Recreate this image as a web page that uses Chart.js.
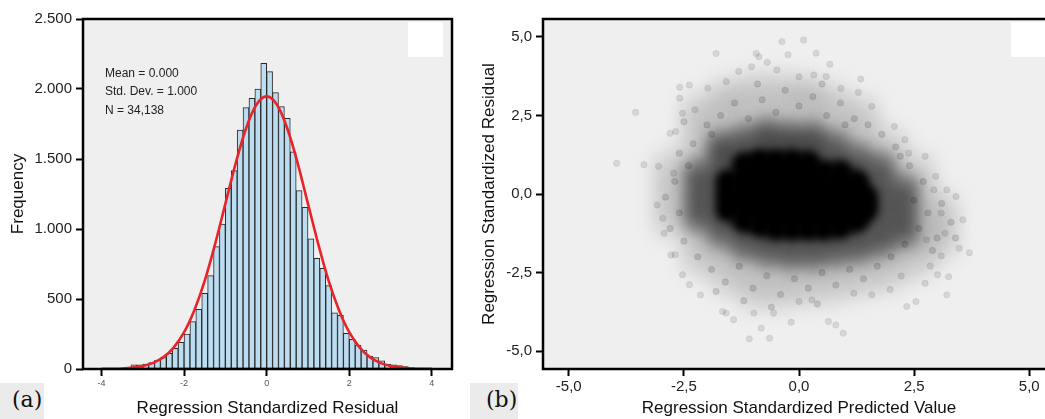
<!DOCTYPE html>
<html lang="en">
<head>
<meta charset="UTF-8">
<title>Regression residual diagnostics</title>
<script src="https://cdn.jsdelivr.net/npm/chart.js"></script>
<style>
    html, body {
        margin: 0;
        padding: 0;
        width: 1045px;
        height: 419px;
        overflow: hidden;
        background: #fff;
    }
    canvas {
        position: absolute;
        top: 0;
    }
    .tag {
        position: absolute;
        top: 383px;
        height: 36px;
        background: #ebebeb;
        font-family: 'DejaVu Serif', 'Liberation Serif', serif;
        font-size: 22px;
        line-height: 34px;
        color: #111;
    }
    .stats {
        position: absolute;
        left: 105px;
        top: 64px;
        font-family: 'Liberation Sans', Arial, sans-serif;
        font-size: 12px;
        line-height: 18.3px;
        color: #222;
    }
</style>
</head>
<body>
    <canvas id="hist" width="470" height="419" style="left:0"></canvas>
    <canvas id="scatter" width="600" height="419" style="left:470px"></canvas>

    <div class="stats">Mean = 0.000<br>Std. Dev. = 1.000<br>N = 34,138</div>
    <div class="tag" style="left:0; width:44px; text-indent:12px;">(a)</div>
    <div class="tag" style="left:470px; width:48px; text-indent:16px;">(b)</div>

<script>
    // histogram (a): bins of width 0.143, first left edge at -4.004
    const firstBinEdge = -4.004;
    const binWidth = 0.143;
    const residCounts = [2, 1, 3, 5, 8, 29, 29, 36, 45, 64, 81, 112, 148, 190, 250, 338, 426, 540, 667, 874,
                         1036, 1290, 1417, 1707, 1867, 1933, 2000, 2183,
                         2124, 1974, 1874, 1790, 1552, 1274, 1155, 929, 790, 719, 595, 402, 383, 255, 212,
                         171, 136, 93, 81, 59, 36, 29, 24, 17, 12, 7, 5];

    // fitted normal curve
    const curveX = [-4, -3.75, -3.5, -3.25, -3, -2.75, -2.5, -2.25, -2, -1.75, -1.5, -1.25, -1, -0.75, -0.5, -0.25,
                    0, 0.25, 0.5, 0.75, 1, 1.25, 1.5, 1.75, 2, 2.25, 2.5, 2.75, 3, 3.25, 3.5, 3.75, 4];
    const curveY = [1, 2, 4, 10, 22, 44, 85, 155, 263, 422, 631, 892, 1181, 1471, 1718, 1887,
                    1947, 1887, 1718, 1471, 1181, 892, 631, 422, 263, 155, 85, 44, 22, 10, 4, 2, 1];

    const residTicks = [-4, -2, 0, 2, 4];
    const residTickLabels = ['-4', '-2', '0', '2', '4'];
    const freqTicks = [0, 500, 1000, 1500, 2000, 2500];
    const freqTickLabels = ['0', '500', '1.000', '1.500', '2.000', '2.500'];

    // scatter (b): standardized predicted value vs standardized residual
    const axisTicks = [-5, -2.5, 0, 2.5, 5];
    const axisTickLabels = ['-5,0', '-2,5', '0,0', '2,5', '5,0'];

    // solid black core of the cloud
    const coreCloud = [
        [-1.55, -0.5], [-1.55, -0.05], [-1.55, 0.4],
        [-1.2, -0.85], [-1.2, -0.4], [-1.2, 0.05], [-1.2, 0.5], [-1.2, 0.95],
        [-0.85, -1.0], [-0.85, -0.55], [-0.85, -0.1], [-0.85, 0.35], [-0.85, 0.8], [-0.85, 1.05],
        [-0.5, -1.1], [-0.5, -0.65], [-0.5, -0.2], [-0.5, 0.25], [-0.5, 0.7], [-0.5, 1.05],
        [-0.15, -1.1], [-0.15, -0.65], [-0.15, -0.2], [-0.15, 0.25], [-0.15, 0.7], [-0.15, 1.05],
        [0.2, -1.1], [0.2, -0.65], [0.2, -0.2], [0.2, 0.25], [0.2, 0.7], [0.2, 1.0],
        [0.55, -1.1], [0.55, -0.65], [0.55, -0.2], [0.55, 0.25], [0.55, 0.7],
        [0.9, -1.05], [0.9, -0.6], [0.9, -0.15], [0.9, 0.3], [0.9, 0.7],
        [1.25, -0.85], [1.25, -0.4], [1.25, 0.05], [1.25, 0.4],
        [1.45, -0.5], [1.45, -0.1]
    ];

    // dark grey ring around the core
    const denseCloud = [
        [-2.2, -0.8], [-2.2, -0.3], [-2.2, 0.2], [-2.2, 0.7],
        [-1.7, -1.3], [-1.7, -0.8], [-1.7, -0.3], [-1.7, 0.2], [-1.7, 0.7], [-1.7, 1.2], [-1.7, 1.6],
        [-1.2, -1.7], [-1.2, -1.2], [-1.2, -0.7], [-1.2, -0.2], [-1.2, 0.3], [-1.2, 0.8], [-1.2, 1.3], [-1.2, 1.8],
        [-0.7, -1.9], [-0.7, -1.4], [-0.7, -0.9], [-0.7, -0.4], [-0.7, 0.1], [-0.7, 0.6], [-0.7, 1.1], [-0.7, 1.6], [-0.7, 2.0],
        [-0.2, -2.0], [-0.2, -1.5], [-0.2, -1.0], [-0.2, -0.5], [-0.2, 0], [-0.2, 0.5], [-0.2, 1.0], [-0.2, 1.5], [-0.2, 1.9],
        [0.3, -2.0], [0.3, -1.5], [0.3, -1.0], [0.3, -0.5], [0.3, 0], [0.3, 0.5], [0.3, 1.0], [0.3, 1.5], [0.3, 1.9],
        [0.8, -1.9], [0.8, -1.4], [0.8, -0.9], [0.8, -0.4], [0.8, 0.1], [0.8, 0.6], [0.8, 1.1], [0.8, 1.6],
        [1.3, -1.8], [1.3, -1.3], [1.3, -0.8], [1.3, -0.3], [1.3, 0.2], [1.3, 0.7], [1.3, 1.2],
        [1.8, -1.6], [1.8, -1.1], [1.8, -0.6], [1.8, -0.1], [1.8, 0.4], [1.8, 0.9],
        [2.3, -1.3], [2.3, -0.8], [2.3, -0.3], [2.3, 0.2]
    ];

    // light grey haze of overlapping points
    const hazeCloud = [
        [-2.8, -0.9], [-2.8, -0.3], [-2.8, 0.3], [-2.8, 0.9],
        [-2.2, -2.1], [-2.2, -1.5], [-2.2, -0.9], [-2.2, -0.3], [-2.2, 0.3], [-2.2, 0.9], [-2.2, 1.5], [-2.2, 2.1], [-2.2, 2.7],
        [-1.6, -2.7], [-1.6, -2.1], [-1.6, -1.5], [-1.6, -0.9], [-1.6, -0.3], [-1.6, 0.3], [-1.6, 0.9], [-1.6, 1.5], [-1.6, 2.1], [-1.6, 2.7], [-1.6, 3.2],
        [-1.0, -3.2], [-1.0, -2.6], [-1.0, -2.0], [-1.0, -1.4], [-1.0, -0.8], [-1.0, -0.2], [-1.0, 0.4], [-1.0, 1.0], [-1.0, 1.6], [-1.0, 2.2], [-1.0, 2.8], [-1.0, 3.4],
        [-0.4, -3.2], [-0.4, -2.6], [-0.4, -2.0], [-0.4, -1.4], [-0.4, -0.8], [-0.4, -0.2], [-0.4, 0.4], [-0.4, 1.0], [-0.4, 1.6], [-0.4, 2.2], [-0.4, 2.8], [-0.4, 3.4],
        [0.2, -3.1], [0.2, -2.5], [0.2, -1.9], [0.2, -1.3], [0.2, -0.7], [0.2, -0.1], [0.2, 0.5], [0.2, 1.1], [0.2, 1.7], [0.2, 2.3], [0.2, 2.9], [0.2, 3.3],
        [0.8, -3.0], [0.8, -2.4], [0.8, -1.8], [0.8, -1.2], [0.8, -0.6], [0.8, 0], [0.8, 0.6], [0.8, 1.2], [0.8, 1.8], [0.8, 2.4], [0.8, 3.0],
        [1.4, -2.8], [1.4, -2.2], [1.4, -1.6], [1.4, -1.0], [1.4, -0.4], [1.4, 0.2], [1.4, 0.8], [1.4, 1.4], [1.4, 2.0], [1.4, 2.6],
        [2.0, -2.6], [2.0, -2.0], [2.0, -1.4], [2.0, -0.8], [2.0, -0.2], [2.0, 0.4], [2.0, 1.0], [2.0, 1.6],
        [2.6, -2.2], [2.6, -1.6], [2.6, -1.0], [2.6, -0.4], [2.6, 0.2], [2.6, 0.8],
        [3.1, -1.6], [3.1, -1.0], [3.1, -0.4]
    ];

    // single points visible in the grey zone
    const midDots = [
        [-2.3, 1.6], [-2.0, 2.2], [-1.7, 2.5], [-1.4, 2.9], [-1.1, 2.4], [-0.8, 3.0], [-0.5, 2.6], [-0.3, 3.3],
        [0.0, 2.8], [0.3, 3.1], [0.6, 2.5], [0.9, 2.9], [1.2, 2.4], [1.5, 2.2], [1.8, 1.9], [2.1, 1.5],
        [-2.5, 2.3], [-0.9, 3.5], [0.5, 3.5], [1.0, 2.2], [-1.9, 1.9], [-2.6, 1.3],
        [-2.7, 0.4], [-2.9, -0.1], [-2.6, -0.6], [-2.8, -1.1], [-2.5, -1.5], [-2.4, 0.9],
        [-2.2, -2.0], [-1.9, -2.4], [-1.6, -2.8], [-1.3, -2.3], [-1.0, -3.0], [-0.7, -2.6], [-0.4, -3.2],
        [-0.1, -2.7], [0.2, -3.0], [0.5, -2.5], [0.8, -2.9], [1.1, -2.4], [1.4, -2.7], [1.7, -2.3], [2.0, -2.0],
        [-1.2, -3.4], [0.4, -3.5], [-0.6, -3.6], [-1.8, -3.1],
        [2.3, -1.6], [2.6, -1.1], [2.8, -0.6], [2.5, -0.2], [2.7, 0.4], [2.4, 0.9], [3.0, -1.4], [3.3, -0.9],
        [2.2, 1.2], [3.1, -0.3], [2.9, -1.8], [3.4, -1.4]
    ];

    // isolated outer points
    const outerDots = [
        [-3.96, 0.98], [-3.55, 2.60], [-3.37, 0.93], [-3.05, 0.88], [-3.08, -0.35], [-2.96, -0.77], [-2.78, -1.94],
        [-2.59, 3.40], [-2.59, 3.05], [-2.38, 3.47], [-1.80, 4.47], [-0.93, 4.47], [-0.87, 4.37], [-0.69, 4.19],
        [-0.37, 4.85], [0.10, 4.90], [-0.24, 4.43], [0.37, 4.48], [0.67, 4.13], [0.59, 3.74], [1.29, 3.23],
        [1.58, 2.79], [1.34, 3.66], [2.30, 1.73], [2.74, 1.20], [2.97, 0.56], [3.21, 0.13], [3.41, -0.08],
        [3.56, -0.82], [3.70, -1.87], [3.48, -1.73], [3.21, -3.21], [2.54, -3.42], [2.34, -3.58], [2.74, -2.84],
        [0.96, -4.43], [0.64, -4.06], [0.80, -4.17], [-0.17, -4.08], [-0.64, -4.59], [-1.08, -4.61], [-0.82, -4.27],
        [-1.58, -3.79], [-1.42, -4.00], [-1.66, -3.74], [-0.98, -3.79], [-0.55, -3.79], [0.00, -3.42], [0.28, -3.37],
        [1.58, -3.21], [1.19, -3.16], [3.01, -2.57], [3.25, -2.63], [-2.72, 0.66], [-2.80, 1.93], [-2.68, 1.99],
        [-2.53, 2.57], [-2.26, 2.68], [-1.98, 3.37], [-1.58, 3.58], [-1.31, 3.90], [-1.03, 4.05], [-0.48, 3.95],
        [0.00, 3.73], [0.32, 3.79], [0.91, 3.36], [2.07, 2.15], [2.38, 1.30], [2.93, 0.13], [3.09, -0.61],
        [3.17, -1.25], [2.77, -1.46], [3.09, -1.97], [2.85, -2.29], [2.22, -2.61], [1.98, -3.04], [-2.38, -2.89],
        [-2.14, -3.21], [-2.53, -2.57], [-2.69, -1.93], [-2.93, -1.25]
    ];

    const FONT = "'Liberation Sans', Arial, sans-serif";
    Chart.defaults.font.family = FONT;

    // grey plot background, empty legend box and black frame
    const panelFrame = {
        id: 'panelFrame',
        beforeDraw(chart) {
            const a = chart.chartArea, ctx = chart.ctx;
            ctx.save();
            ctx.fillStyle = '#efefef';
            ctx.fillRect(a.left, a.top, a.right - a.left, a.bottom - a.top);
            ctx.fillStyle = '#ffffff';
            ctx.fillRect(a.right - 44, a.top + 3, 35, 35);
            ctx.restore();
        },
        afterDraw(chart) {
            const a = chart.chartArea, ctx = chart.ctx;
            ctx.save();
            ctx.strokeStyle = '#000';
            ctx.lineWidth = 2.5;
            ctx.strokeRect(a.left, a.top, a.right - a.left, a.bottom - a.top);
            ctx.restore();
        }
    };

    // soften overlapping point layers so they read as a density cloud
    const softCloud = {
        id: 'softCloud',
        beforeDatasetDraw(chart, args) {
            const blur = chart.data.datasets[args.index].blur;
            if (blur) {
                chart.ctx.save();
                chart.ctx.filter = 'blur(' + blur + 'px)';
            }
        },
        afterDatasetDraw(chart, args) {
            if (chart.data.datasets[args.index].blur) chart.ctx.restore();
        }
    };

    function tickGrid() {
        return { display: true, drawOnChartArea: false, drawTicks: true, tickLength: 7, tickWidth: 2, tickColor: '#000' };
    }

    new Chart(document.getElementById('hist'), {
        type: 'bar',
        data: {
            datasets: [
                {
                    type: 'line',
                    data: curveX.map((x, i) => ({ x: x, y: curveY[i] })),
                    borderColor: '#e8232a',
                    borderWidth: 2.6,
                    pointRadius: 0,
                    cubicInterpolationMode: 'monotone',
                    order: 0
                },
                {
                    type: 'bar',
                    data: residCounts.map((c, i) => ({ x: firstBinEdge + (i + 0.5) * binWidth, y: c })),
                    backgroundColor: '#bcdcf0',
                    borderColor: '#2a2a2a',
                    borderWidth: 1,
                    borderSkipped: false,
                    barPercentage: 1,
                    categoryPercentage: 1,
                    order: 1
                }
            ]
        },
        options: {
            responsive: false,
            animation: false,
            layout: { padding: { top: 19, right: 18, left: 0, bottom: 0 }, autoPadding: false },
            plugins: { legend: { display: false }, tooltip: { enabled: false } },
            scales: {
                x: {
                    type: 'linear',
                    min: -4.45,
                    max: 4.49,
                    offset: false,
                    afterBuildTicks: s => { s.ticks = residTicks.map(v => ({ value: v })); },
                    afterFit: s => { s.height = 50; },
                    grid: Object.assign(tickGrid(), { offset: false }),
                    border: { display: false },
                    ticks: { padding: 2, maxRotation: 0, color: '#555', font: { size: 9 },
                             callback: (v, i) => residTickLabels[i] },
                    title: { display: true, text: 'Regression Standardized Residual', color: '#111',
                             font: { size: 17 }, padding: { top: 0, bottom: 0 } }
                },
                y: {
                    min: 0,
                    max: 2500,
                    afterBuildTicks: s => { s.ticks = freqTicks.map(v => ({ value: v })); },
                    afterFit: s => { s.width = 83; },
                    grid: tickGrid(),
                    border: { display: false },
                    ticks: { padding: 4, color: '#222', font: { size: 15 },
                             callback: (v, i) => freqTickLabels[i] },
                    title: { display: true, text: 'Frequency', color: '#111',
                             font: { size: 17 }, padding: { top: 8, bottom: 0 } }
                }
            }
        },
        plugins: [panelFrame]
    });

    const toXY = arr => arr.map(p => ({ x: p[0], y: p[1] }));

    new Chart(document.getElementById('scatter'), {
        type: 'scatter',
        data: {
            datasets: [
                { data: toXY(hazeCloud), pointRadius: 18, backgroundColor: 'rgba(0,0,0,0.10)', borderWidth: 0,
                  blur: 9, order: 4 },
                { data: toXY(denseCloud), pointRadius: 15, backgroundColor: 'rgba(0,0,0,0.37)', borderWidth: 0,
                  blur: 7, order: 3 },
                { data: toXY(coreCloud), pointRadius: 12.5, backgroundColor: '#000', borderWidth: 0,
                  blur: 4, order: 2 },
                { data: toXY(midDots), pointRadius: 3.2, backgroundColor: 'rgba(0,0,0,0.13)',
                  borderColor: 'rgba(0,0,0,0.08)', borderWidth: 1, order: 1 },
                { data: toXY(outerDots), pointRadius: 3.2, backgroundColor: 'rgba(0,0,0,0.10)',
                  borderColor: 'rgba(0,0,0,0.06)', borderWidth: 1, order: 0 }
            ]
        },
        options: {
            responsive: false,
            animation: false,
            layout: { padding: { top: 19, right: 15, left: 0, bottom: 0 }, autoPadding: false },
            plugins: { legend: { display: false }, tooltip: { enabled: false } },
            scales: {
                x: {
                    type: 'linear',
                    min: -5.56,
                    max: 5.56,
                    afterBuildTicks: s => { s.ticks = axisTicks.map(v => ({ value: v })); },
                    afterFit: s => { s.height = 50; },
                    grid: tickGrid(),
                    border: { display: false },
                    ticks: { padding: 2, maxRotation: 0, color: '#222', font: { size: 15 },
                             callback: (v, i) => axisTickLabels[i] },
                    title: { display: true, text: 'Regression Standardized Predicted Value', color: '#111',
                             font: { size: 17 }, padding: { top: 0, bottom: 0 } }
                },
                y: {
                    type: 'linear',
                    min: -5.57,
                    max: 5.57,
                    afterBuildTicks: s => { s.ticks = axisTicks.map(v => ({ value: v })); },
                    afterFit: s => { s.width = 73; },
                    grid: tickGrid(),
                    border: { display: false },
                    ticks: { padding: 4, color: '#222', font: { size: 15 },
                             callback: (v, i) => axisTickLabels[i] },
                    title: { display: true, text: 'Regression Standardized Residual', color: '#111',
                             font: { size: 17 }, padding: { top: 9, bottom: 0 } }
                }
            }
        },
        plugins: [panelFrame, softCloud]
    });
</script>
</body>
</html>
